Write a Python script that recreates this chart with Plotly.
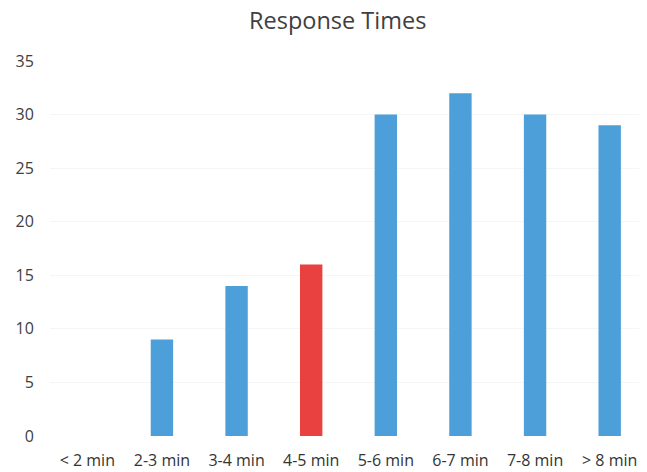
import plotly.graph_objects as go

categories = ["< 2 min", "2-3 min", "3-4 min", "4-5 min", "5-6 min", "6-7 min", "7-8 min", "> 8 min"]
values = [0, 9, 14, 16, 30, 32, 30, 29]
highlight = "4-5 min"
y_ticks = [0, 5, 10, 15, 20, 25, 30, 35]

blue = "#4d9fd9"
red = "#e8413f"
colors = [red if c == highlight else blue for c in categories]

fig = go.Figure(go.Bar(x=categories, y=values, marker=dict(color=colors, line=dict(width=0)), width=0.3))

fig.update_layout(
    width=639, height=464,
    margin=dict(l=42, r=0, t=53, b=36, autoexpand=False),
    paper_bgcolor="white", plot_bgcolor="white",
    font=dict(family="Open Sans, Lato, sans-serif", color="#404040", size=16),
    title=dict(text="Response Times", x=0.516, xref="container", xanchor="center",
               y=0.972, yref="container", yanchor="middle",
               font=dict(size=23.5, color="#404040")),
    showlegend=False,
    bargap=0.7,
)
fig.update_xaxes(showline=False, showgrid=False, ticks="outside", ticklen=10, tickcolor="rgba(0,0,0,0)",
                 tickfont=dict(size=16, color="#333333"))
fig.update_yaxes(range=[0, 35], tickvals=y_ticks, showgrid=True, gridcolor="#f5f5f5", zeroline=False,
                 showline=False, ticks="outside", ticklen=12, tickcolor="rgba(0,0,0,0)",
                 tickfont=dict(size=16, color="#404040"))

fig.write_html("out.html")
